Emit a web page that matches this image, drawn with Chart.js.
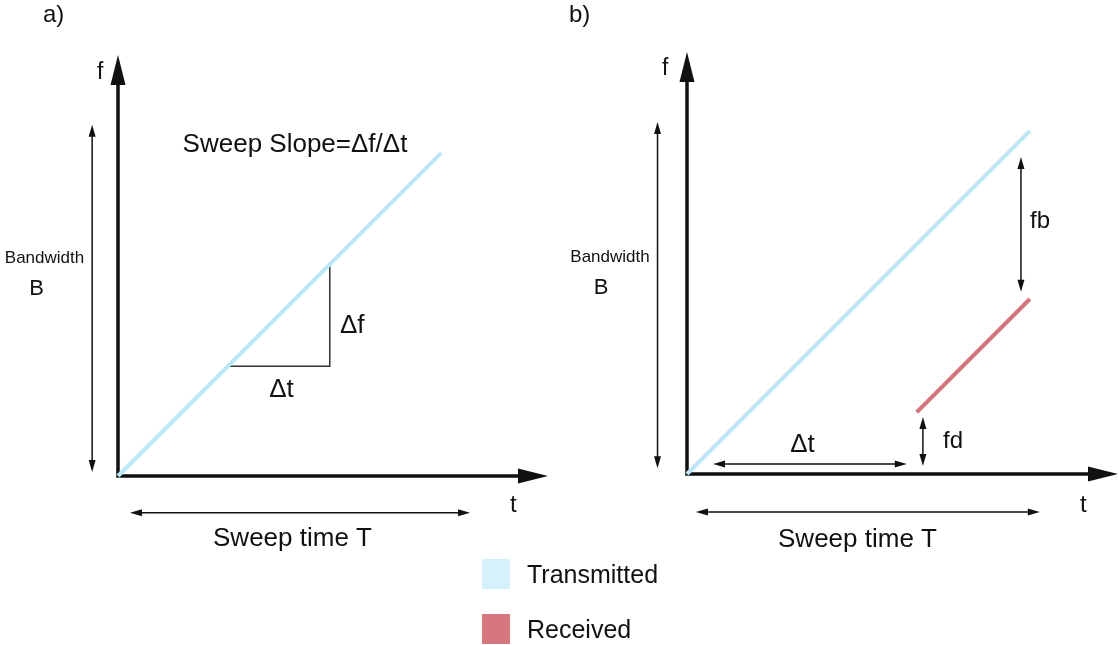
<!DOCTYPE html>
<html>
<head>
<meta charset="utf-8">
<title>FMCW sweep</title>
<script src="https://cdn.jsdelivr.net/npm/chart.js@4.4.1/dist/chart.umd.min.js"></script>
<style>
  html, body { margin: 0; padding: 0; background: #ffffff; }
  body { width: 1119px; height: 645px; position: relative; overflow: hidden;
         font-family: "Liberation Sans", Arial, sans-serif; color: #111; }
  canvas { position: absolute; top: 0; }
  #panelA { left: 0; }
  #panelB { left: 560px; }
  .key { position: absolute; left: 482px; display: flex; align-items: center; }
  .key .sw { width: 28px; height: 30px; margin-right: 17px; }
  .key span { font-size: 25px; line-height: 30px; }
</style>
</head>
<body>
<canvas id="panelA" width="560" height="645"></canvas>
<canvas id="panelB" width="559" height="645"></canvas>
<div class="key" style="top:559px"><div class="sw" id="swTx"></div><span>Transmitted</span></div>
<div class="key" style="top:614px"><div class="sw" id="swRx"></div><span>Received</span></div>

<script>
// Nominal units: one sweep lasts T = 10 and spans bandwidth B = 10.
const sweepTime = [0, 10];
const transmittedFreq = [0, 10];
// Echo: arrives after the delay and is offset by the Doppler shift.
const echoTime = [6.7, 10];
const receivedFreq = [1.8, 5.1];
// Slope triangle on the transmitted ramp (panel a).
const slopeLegTime = [3.4, 6.55, 6.55];
const slopeLegFreq = [3.4, 3.4, 6.55];

const TX_COLOR = '#bde6f6';
const TX_KEY = '#d6f1fc';
const RX_COLOR = '#d5737e';
const RX_KEY = '#d6777f';
const INK = '#111111';
const FONT = '"Liberation Sans", Arial, sans-serif';

document.getElementById('swTx').style.background = TX_KEY;
document.getElementById('swRx').style.background = RX_KEY;

const pts = (xs, ys) => xs.map((x, i) => ({ x, y: ys[i] }));

function arrowHead(ctx, tipX, tipY, dirX, dirY, len, halfW) {
  const bx = tipX - dirX * len, by = tipY - dirY * len;
  ctx.beginPath();
  ctx.moveTo(tipX, tipY);
  ctx.lineTo(bx - dirY * halfW, by + dirX * halfW);
  ctx.lineTo(bx + dirY * halfW, by - dirX * halfW);
  ctx.closePath();
  ctx.fill();
}

// Double-headed dimension arrow between two pixel points.
function dimArrow(ctx, x1, y1, x2, y2) {
  const len = 12, halfW = 3.5;
  const d = Math.hypot(x2 - x1, y2 - y1);
  const ux = (x2 - x1) / d, uy = (y2 - y1) / d;
  ctx.save();
  ctx.strokeStyle = INK; ctx.fillStyle = INK; ctx.lineWidth = 1.5;
  ctx.beginPath();
  ctx.moveTo(x1 + ux * (len - 1), y1 + uy * (len - 1));
  ctx.lineTo(x2 - ux * (len - 1), y2 - uy * (len - 1));
  ctx.stroke();
  arrowHead(ctx, x1, y1, -ux, -uy, len, halfW);
  arrowHead(ctx, x2, y2, ux, uy, len, halfW);
  ctx.restore();
}

// Draws the f/t axes with arrowheads, dimension arrows and text labels.
const diagramPlugin = {
  id: 'diagram',
  beforeDatasetsDraw(chart) {
    const { ctx, chartArea: a } = chart;
    const ox = chart.scales.x.getPixelForValue(0);
    const oy = chart.scales.y.getPixelForValue(0);
    ctx.save();
    ctx.strokeStyle = INK; ctx.fillStyle = INK; ctx.lineWidth = 3.5;
    ctx.beginPath();
    ctx.moveTo(ox, oy + 1.5); ctx.lineTo(ox, a.top + 28);
    ctx.moveTo(ox - 1.5, oy); ctx.lineTo(a.right - 28, oy);
    ctx.stroke();
    arrowHead(ctx, ox, a.top, 0, -1, 30, 7.5);
    arrowHead(ctx, a.right, oy, 1, 0, 30, 7.5);
    ctx.restore();
  },
  afterDatasetsDraw(chart, args, opts) {
    const { ctx } = chart;
    const xs = chart.scales.x, ys = chart.scales.y;
    (opts.dims || []).forEach(d => {
      if (d.dir === 'v') {
        const x = xs.getPixelForValue(d.at);
        dimArrow(ctx, x, ys.getPixelForValue(d.from), x, ys.getPixelForValue(d.to));
      } else {
        const y = ys.getPixelForValue(d.at);
        dimArrow(ctx, xs.getPixelForValue(d.from), y, xs.getPixelForValue(d.to), y);
      }
    });
    const ox = xs.getPixelForValue(0), oy = ys.getPixelForValue(0);
    ctx.save();
    ctx.fillStyle = INK;
    ctx.textBaseline = 'alphabetic';
    (opts.labels || []).forEach(l => {
      ctx.font = `${l.size}px ${FONT}`;
      ctx.textAlign = l.align || 'left';
      ctx.fillText(l.text, ox + l.dx, oy + l.dy);
    });
    ctx.restore();
  }
};

function lineSet(label, data, color, width) {
  return {
    label, data, showLine: true, borderColor: color, backgroundColor: color,
    borderWidth: width, pointRadius: 0, borderCapStyle: 'butt', clip: false, tension: 0
  };
}

function baseOptions(pad, xMax, yMax, diagram) {
  return {
    responsive: false, animation: false, events: [],
    layout: { padding: pad },
    scales: {
      x: { type: 'linear', min: 0, max: xMax, display: false },
      y: { type: 'linear', min: 0, max: yMax, display: false }
    },
    plugins: { legend: { display: false }, tooltip: { enabled: false }, diagram }
  };
}

// Panel a: transmitted chirp and its slope
new Chart(document.getElementById('panelA'), {
  type: 'scatter',
  data: {
    datasets: [
      lineSet('Transmitted', pts(sweepTime, transmittedFreq), TX_COLOR, 4),
      lineSet('Slope', pts(slopeLegTime, slopeLegFreq), '#333333', 1.5)
    ]
  },
  options: baseOptions({ left: 118, top: 55, right: 12, bottom: 169 }, 13.3, 13.03, {
    dims: [
      { dir: 'v', at: -0.8, from: 0.12, to: 10.87 },
      { dir: 'h', at: -1.135, from: 0.37, to: 10.89 }
    ],
    labels: [
      { text: 'a)', dx: -75, dy: -454, size: 24 },
      { text: 'f', dx: -21, dy: -397, size: 23 },
      { text: 'Sweep Slope=Δf/Δt', dx: 177, dy: -324, size: 26, align: 'center' },
      { text: 'Δf', dx: 222, dy: -143, size: 26 },
      { text: 'Δt', dx: 163.5, dy: -79, size: 26, align: 'center' },
      { text: 'Bandwidth', dx: -73.5, dy: -213, size: 17, align: 'center' },
      { text: 'B', dx: -81.5, dy: -181, size: 22, align: 'center' },
      { text: 'Sweep time T', dx: 174.5, dy: 70, size: 26, align: 'center' },
      { text: 't', dx: 392, dy: 36, size: 24 }
    ]
  }),
  plugins: [diagramPlugin]
});

// Panel b: transmitted vs received chirp
new Chart(document.getElementById('panelB'), {
  type: 'scatter',
  data: {
    datasets: [
      lineSet('Transmitted', pts(sweepTime, transmittedFreq), TX_COLOR, 4),
      lineSet('Received', pts(echoTime, receivedFreq), RX_COLOR, 4)
    ]
  },
  options: baseOptions({ left: 127, top: 52, right: 1, bottom: 171 }, 12.57, 12.3, {
    dims: [
      { dir: 'v', at: -0.86, from: 0.17, to: 10.26 },
      { dir: 'h', at: -1.11, from: 0.26, to: 10.29 },
      { dir: 'h', at: 0.29, from: 0.76, to: 6.41 },
      { dir: 'v', at: 6.88, from: 0.23, to: 1.66 },
      { dir: 'v', at: 9.74, from: 5.31, to: 9.24 }
    ],
    labels: [
      { text: 'b)', dx: -118, dy: -452.5, size: 24 },
      { text: 'f', dx: -25, dy: -399, size: 23 },
      { text: 'Bandwidth', dx: -77, dy: -212.4, size: 17, align: 'center' },
      { text: 'B', dx: -86, dy: -180, size: 22, align: 'center' },
      { text: 'fb', dx: 343, dy: -246, size: 24 },
      { text: 'fd', dx: 256, dy: -26, size: 24 },
      { text: 'Δt', dx: 115.5, dy: -22.4, size: 26, align: 'center' },
      { text: 'Sweep time T', dx: 170.5, dy: 72.6, size: 26, align: 'center' },
      { text: 't', dx: 393, dy: 38, size: 24 }
    ]
  }),
  plugins: [diagramPlugin]
});
</script>
</body>
</html>
